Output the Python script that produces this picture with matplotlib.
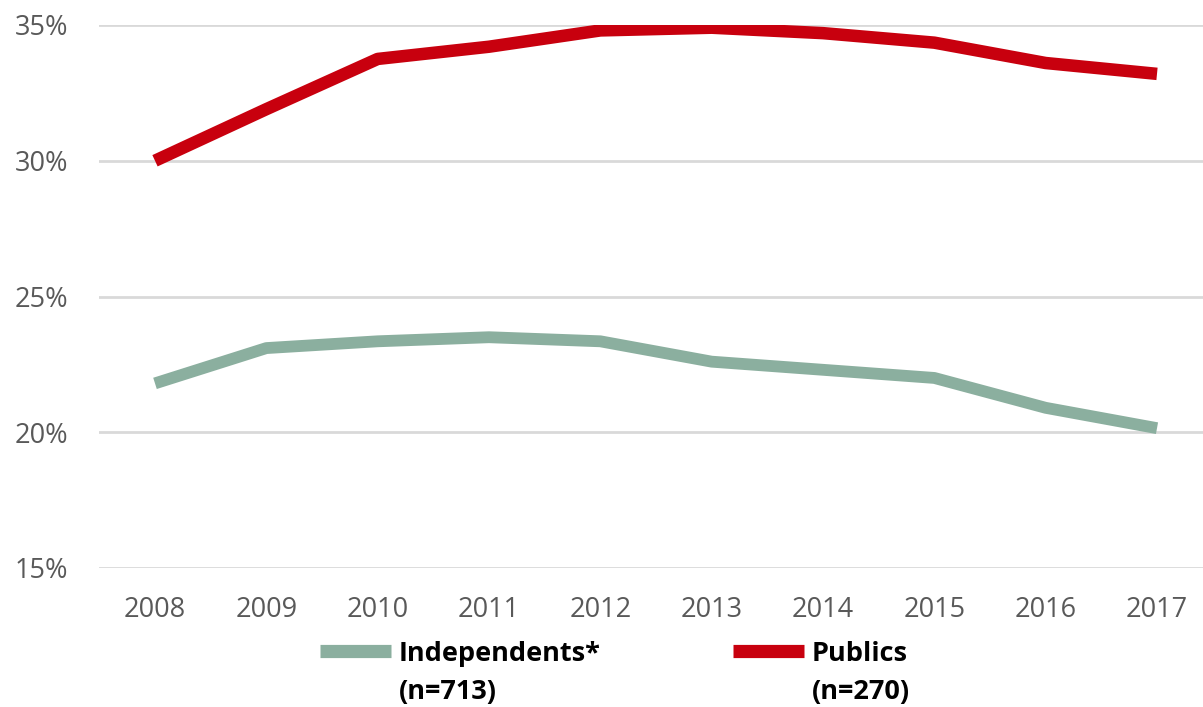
import matplotlib
matplotlib.use("Agg")
import matplotlib.pyplot as plt
from matplotlib.lines import Line2D

years = ["2008", "2009", "2010", "2011", "2012", "2013", "2014", "2015", "2016", "2017"]
independents = [21.8, 23.1, 23.35, 23.5, 23.35, 22.6, 22.3, 22.0, 20.9, 20.15]
publics = [30.0, 31.9, 33.75, 34.2, 34.8, 34.9, 34.7, 34.35, 33.6, 33.2]
yticks = [15, 20, 25, 30, 35]
labels = ["Independents*", "(n=713)", "Publics", "(n=270)"]

green = "#8BAF9F"
red = "#C8000E"

plt.rcParams['font.family'] = ['Open Sans', 'DejaVu Sans']

W, H = 1203, 707
fig = plt.figure(figsize=(W / 100, H / 100), dpi=100)
ax = fig.add_axes([99 / W, (H - 568) / H, (W - 99) / W, (568 - 25) / H])

x = list(range(len(years)))
ax.plot(x, independents, color=green, lw=8.5, solid_capstyle='butt', solid_joinstyle='round')
ax.plot(x, publics, color=red, lw=9, solid_capstyle='butt', solid_joinstyle='round')

step = (1157 - 155) / 9
left = -(155 - 99) / step
right = left + (W - 99) / step
ax.set_xlim(left, right)
ax.set_ylim(15, 35)
ax.set_yticks(yticks)
ax.set_yticklabels([f"{v}%" for v in yticks])
ax.set_xticks(x)
ax.set_xticklabels(years)
ax.grid(axis='y', color='#D9D9D9', lw=2)
ax.set_axisbelow(True)
for s in ax.spines.values():
    s.set_visible(False)
ax.tick_params(length=0, labelsize=19.5, colors='#595959')
ax.tick_params(axis='y', pad=22)
ax.tick_params(axis='x', pad=20)

handles = [Line2D([], [], color=green, lw=9.5, solid_capstyle='butt'),
           Line2D([], [], color='none', lw=0),
           Line2D([], [], color=red, lw=9.5, solid_capstyle='butt'),
           Line2D([], [], color='none', lw=0)]
leg = fig.legend(handles, labels, ncol=2, loc='center', bbox_to_anchor=(615 / W, (H - 673) / H),
                 frameon=False, prop={'weight': 'bold', 'size': 19.5}, handlelength=2.6,
                 handletextpad=0.3, columnspacing=4.9, labelspacing=0.45,
                 borderpad=0, borderaxespad=0)

fig.savefig("out.png", dpi=100)
